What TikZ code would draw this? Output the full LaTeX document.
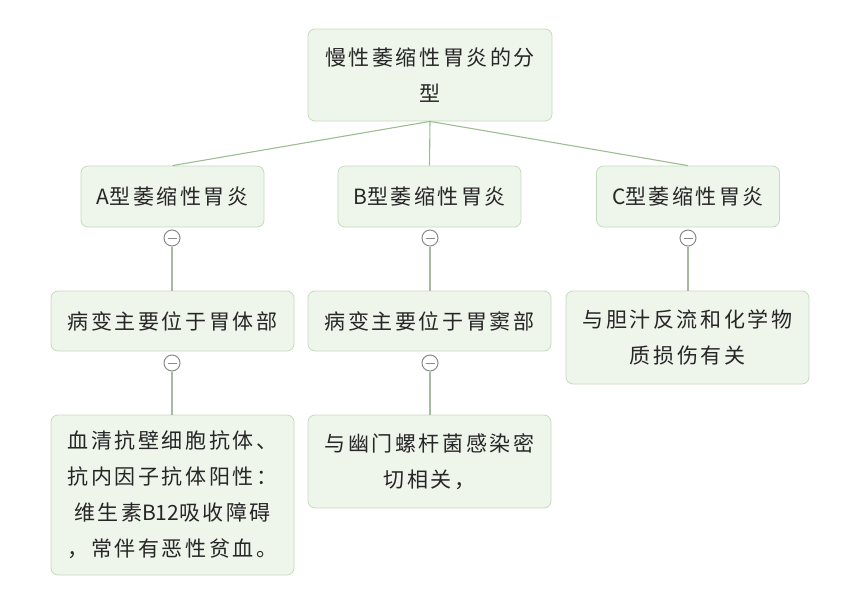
\documentclass[tikz,border=0pt]{standalone}
\usepackage{fontspec}
\setmainfont[LetterSpace=12]{Noto Sans CJK SC}
\newfontfamily\latn{Noto Sans CJK SC}
\definecolor{boxfill}{HTML}{EEF5EB}
\definecolor{boxline}{HTML}{C5DBBE}
\definecolor{edge}{HTML}{9CBD93}
\definecolor{vedge}{HTML}{A8B9A4}
\definecolor{toggle}{HTML}{8A8A8A}
\tikzset{
  topic/.style={draw=boxline, fill=boxfill, rounded corners=7pt, line width=0.8pt,
    align=center, inner sep=0pt, font=\fontsize{21}{36}\selectfont, text=black!85},
  toggler/.style={circle, draw=toggle, fill=white, line width=1pt, minimum size=16pt, inner sep=0pt,
    path picture={\draw[toggle, line width=1pt] ([xshift=-4.5pt]path picture bounding box.center) -- ([xshift=4.5pt]path picture bounding box.center);}},
  link/.style={draw=edge, line width=1.1pt},
  vlink/.style={draw=vedge, line width=1.1pt}
}
\begin{document}
\begin{tikzpicture}[x=1pt,y=-1pt]
\useasboundingbox (0,0) rectangle (841,600);
\node[topic, minimum width=244pt, minimum height=92pt] (root) at (430,75) {慢性萎缩性胃炎的分\\型};
\node[topic, minimum width=183pt, minimum height=61pt] (a) at (172.5,196.5) {{\latn A}型萎缩性胃炎};
\node[topic, minimum width=183pt, minimum height=61pt] (b) at (429.5,196.5) {{\latn B}型萎缩性胃炎};
\node[topic, minimum width=183pt, minimum height=61pt] (c) at (688,196.5) {{\latn C}型萎缩性胃炎};
\node[topic, minimum width=243pt, minimum height=60pt] (a2) at (172.5,321) {病变主要位于胃体部};
\node[topic, minimum width=243pt, minimum height=60pt] (b2) at (429.5,321) {病变主要位于胃窦部};
\node[topic, minimum width=243pt, minimum height=93pt] (c2) at (687.5,337.5) {与胆汁反流和化学物\\质损伤有关};
\node[topic, minimum width=243pt, minimum height=160pt] (a3) at (172.5,495) {血清抗壁细胞抗体、\\抗内因子抗体阳性：\\维生素{\latn B12}吸收障碍\\，常伴有恶性贫血。};
\node[topic, minimum width=243pt, minimum height=93pt] (b3) at (429.5,461.5) {与幽门螺杆菌感染密\\切相关，};
\draw[link] (root.south) -- (a.north);
\draw[link] (root.south) -- (b.north);
\draw[link] (root.south) -- (c.north);
\node[toggler] (ta) at (172,238) {};
\node[toggler] (tb) at (430,238) {};
\node[toggler] (tc) at (688,238) {};
\node[toggler] (ta2) at (172,363) {};
\node[toggler] (tb2) at (430,363) {};
\draw[vlink] (ta.south) -- (ta.south |- a2.north);
\draw[vlink] (tb.south) -- (tb.south |- b2.north);
\draw[vlink] (tc.south) -- (tc.south |- c2.north);
\draw[vlink] (ta2.south) -- (ta2.south |- a3.north);
\draw[vlink] (tb2.south) -- (tb2.south |- b3.north);
\end{tikzpicture}
\end{document}
